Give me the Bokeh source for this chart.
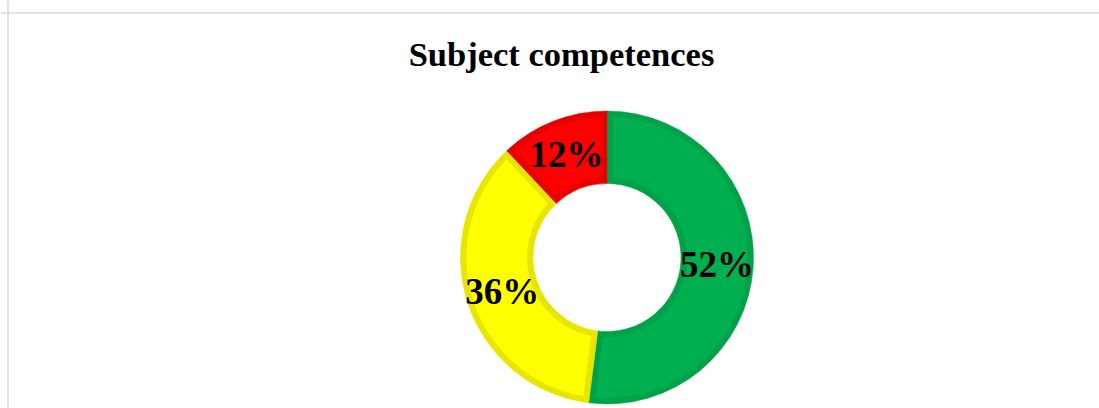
import numpy as np
from bokeh.plotting import figure
from bokeh.models import Range1d, Span, Label, ColumnDataSource
from bokeh.core.properties import value
from bokeh.embed import file_html
from bokeh.resources import INLINE

# ---- data ----
title_text = "Subject competences"
categories = ["High", "Medium", "Low"]
values = [52, 36, 12]
fill_colors = ["#00B050", "#FFFF00", "#FF0000"]
band_colors = ["#00A249", "#E6E600", "#E60000"]

# ---- geometry (pixel-like data space) ----
W, H = 1099, 408
cx, cy = 606.5, 151.0
r_out, r_in = 146.5, 74.0
band = 6.0

p = figure(width=W, height=H, x_range=Range1d(0, W), y_range=Range1d(0, H),
           output_backend="svg", toolbar_location=None, min_border=0,
           x_axis_location=None, y_axis_location=None)
p.grid.visible = False
p.outline_line_color = None
p.background_fill_color = "white"
p.border_fill_color = "white"

vals = np.array(values, dtype=float)
frac = vals / vals.sum()
ends = np.cumsum(frac)
starts = ends - frac
start_angle = np.pi / 2 - 2 * np.pi * starts
end_angle = np.pi / 2 - 2 * np.pi * ends

src = ColumnDataSource(dict(cat=categories, start=start_angle, end=end_angle,
                            fill=fill_colors, band=band_colors))
p.annular_wedge(x=cx, y=cy, inner_radius=r_in, outer_radius=r_out,
                start_angle="start", end_angle="end", direction="clock",
                fill_color="band", line_color="band", line_width=0.5, source=src)

xs, ys = [], []
for a0, a1 in zip(start_angle, end_angle):
    R = r_out - band
    r = r_in + band
    t_out = np.linspace(a0 - np.arcsin(band / R), a1 + np.arcsin(band / R), 200)
    t_in = np.linspace(a1 + np.arcsin(band / r), a0 - np.arcsin(band / r), 200)
    xs.append(list(np.concatenate([cx + R * np.cos(t_out), cx + r * np.cos(t_in)])))
    ys.append(list(np.concatenate([cy + R * np.sin(t_out), cy + r * np.sin(t_in)])))
p.patches(xs=xs, ys=ys, fill_color=fill_colors, line_color=None)

mid = (start_angle + end_angle) / 2
r_mid = (r_out + r_in) / 2
lab = ColumnDataSource(dict(x=cx + r_mid * np.cos(mid), y=cy + r_mid * np.sin(mid),
                            t=[f"{v}%" for v in values]))
p.text(x="x", y="y", text="t", source=lab, text_align="center", text_baseline="middle",
       text_font=value("Liberation Serif"), text_font_style="bold",
       text_font_size="37px", text_color="black")

p.add_layout(Label(x=561, y=354.5, text=title_text, text_align="center",
                   text_baseline="alphabetic", text_font="Liberation Serif",
                   text_font_style="bold", text_font_size="34.5px", text_color="black"))

p.add_layout(Span(location=395.5, dimension="width", line_color="#d9d9d9", line_width=1.5))
p.add_layout(Span(location=7.5, dimension="height", line_color="#d9d9d9", line_width=1.5))

open("out.html", "w").write(file_html(p, INLINE))
